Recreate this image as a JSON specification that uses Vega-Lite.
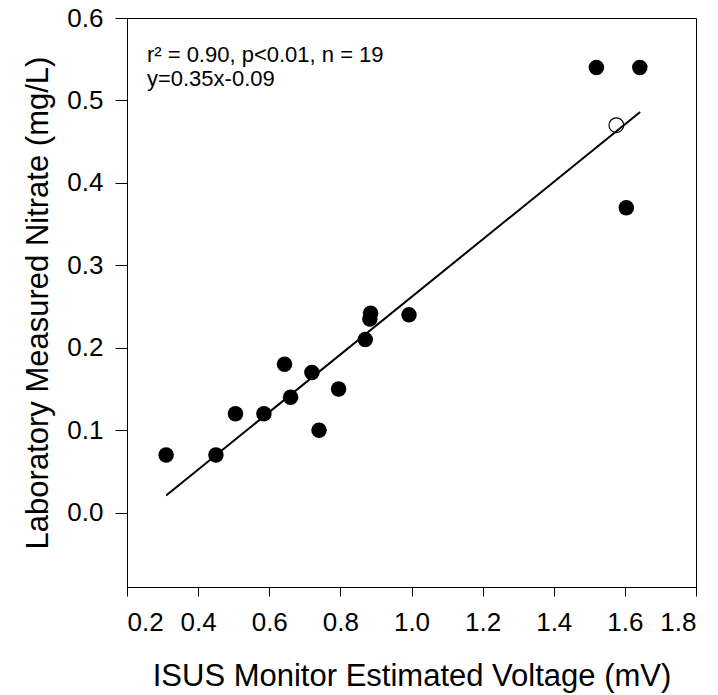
{
  "$schema": "https://vega.github.io/schema/vega-lite/v6.json",
  "width": 569,
  "height": 569,
  "autosize": "none",
  "padding": {"left": 127, "top": 18, "right": 22, "bottom": 108},
  "background": "white",
  "config": {
    "font": "Liberation Sans",
    "view": {"stroke": "black", "strokeWidth": 1},
    "axis": {
      "grid": false,
      "domainColor": "black",
      "domainWidth": 1,
      "tickColor": "black",
      "tickWidth": 1,
      "labelColor": "black",
      "titleColor": "black",
      "labelFont": "Liberation Sans",
      "titleFont": "Liberation Sans",
      "labelFontSize": 26,
      "titleFontSize": 31,
      "titleFontWeight": "normal"
    }
  },
  "data": {
    "values": [
      {"x": 0.31, "y": 0.07, "kind": "filled"},
      {"x": 0.45, "y": 0.07, "kind": "filled"},
      {"x": 0.505, "y": 0.12, "kind": "filled"},
      {"x": 0.585, "y": 0.12, "kind": "filled"},
      {"x": 0.643, "y": 0.18, "kind": "filled"},
      {"x": 0.66, "y": 0.14, "kind": "filled"},
      {"x": 0.72, "y": 0.17, "kind": "filled"},
      {"x": 0.74, "y": 0.10, "kind": "filled"},
      {"x": 0.795, "y": 0.15, "kind": "filled"},
      {"x": 0.87, "y": 0.21, "kind": "filled"},
      {"x": 0.883, "y": 0.235, "kind": "filled"},
      {"x": 0.885, "y": 0.242, "kind": "filled"},
      {"x": 0.993, "y": 0.24, "kind": "filled"},
      {"x": 1.52, "y": 0.54, "kind": "filled"},
      {"x": 1.642, "y": 0.54, "kind": "filled"},
      {"x": 1.604, "y": 0.37, "kind": "filled"},
      {"x": 1.576, "y": 0.47, "kind": "open"},
      {"x": 0.31, "y": 0.021, "kind": "fit"},
      {"x": 1.643, "y": 0.486, "kind": "fit"}
    ]
  },
  "encoding": {
    "x": {
      "field": "x",
      "type": "quantitative",
      "scale": {"domain": [0.2, 1.8], "nice": false, "zero": false},
      "axis": {
        "title": "ISUS Monitor Estimated Voltage (mV)",
        "values": [0.2, 0.4, 0.6, 0.8, 1.0, 1.2, 1.4, 1.6, 1.8],
        "format": ".1f",
        "tickSize": 9,
        "labelPadding": 13,
        "titlePadding": 26
      }
    },
    "y": {
      "field": "y",
      "type": "quantitative",
      "scale": {"domain": [-0.09, 0.6], "nice": false, "zero": false},
      "axis": {
        "title": "Laboratory Measured Nitrate (mg/L)",
        "values": [0.0, 0.1, 0.2, 0.3, 0.4, 0.5, 0.6],
        "format": ".1f",
        "tickSize": 12,
        "labelPadding": 12,
        "titlePadding": 12
      }
    }
  },
  "layer": [
    {
      "transform": [{"filter": "datum.kind === 'fit'"}],
      "mark": {"type": "line", "color": "black", "strokeWidth": 2}
    },
    {
      "transform": [{"filter": "datum.kind === 'filled'"}],
      "mark": {"type": "circle", "size": 240, "color": "black", "opacity": 1}
    },
    {
      "transform": [{"filter": "datum.kind === 'open'"}],
      "mark": {"type": "point", "shape": "circle", "size": 215, "filled": false, "stroke": "black", "strokeWidth": 1.2, "opacity": 1}
    },
    {
      "transform": [{"filter": "datum.kind === 'open'"}],
      "mark": {
        "type": "text",
        "align": "left",
        "baseline": "alphabetic",
        "fontSize": 22,
        "lineHeight": 24,
        "color": "black",
        "font": "Liberation Sans",
        "text": ["r² = 0.90, p<0.01, n = 19", "y=0.35x-0.09"]
      },
      "encoding": {
        "x": {"datum": 0.256},
        "y": {"datum": 0.547}
      }
    }
  ]
}
